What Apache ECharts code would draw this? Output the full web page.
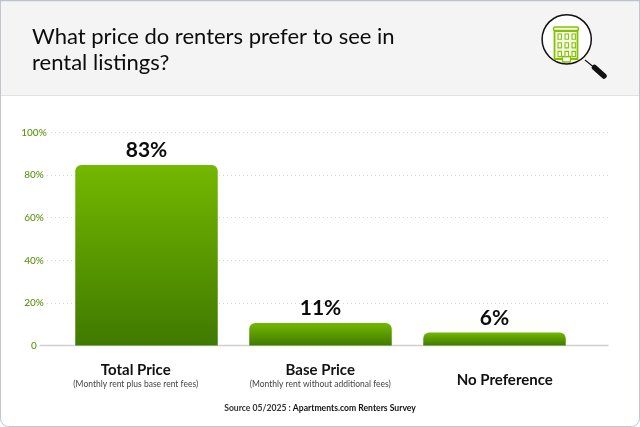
<!DOCTYPE html>
<html><head><meta charset="utf-8">
<style>html,body{margin:0;padding:0;background:#fff}#c{width:640px;height:427px}</style>
<script src="https://cdn.jsdelivr.net/npm/echarts@6/dist/echarts.min.js"></script>
</head><body><div id="c"></div>
<script>
// Printed percentages
const printedLabels = [83, 11, 6];
// Bar heights as read against the axis in the picture (the first bar is drawn a little above its printed 83)
const barHeights = [84.7, 10.6, 6.1];
const categories = ['Total Price', 'Base Price', 'No Preference'];
const subLabels = ['(Monthly rent plus base rent fees)', '(Monthly rent without additional fees)', ''];
const yTicks = [0, 20, 40, 60, 80, 100];
const titleText = 'What price do renters prefer to see in\nrental listings?';
const FONT = 'Lato, "Noto Sans", sans-serif';
const GREEN = '#74b800';
const ICON_GREEN = '#84c200';

const chart = echarts.init(document.getElementById('c'), null, {renderer: 'canvas'});
const icon = [
  {type:'circle',shape:{cx:566.7,cy:39.3,r:24.6},style:{fill:'#fff',stroke:'#111',lineWidth:1.5}},
  {type:'rect',shape:{x:554.5,y:31,width:23,height:28},style:{fill:'#f4fae6',stroke:ICON_GREEN,lineWidth:1.8}},
  {type:'rect',shape:{x:553.5,y:27,width:25,height:3.6,r:1.8},style:{fill:'#fff',stroke:ICON_GREEN,lineWidth:1.5}},
  {type:'rect',shape:{x:562.5,y:56.5,width:8,height:5.5},style:{fill:'#fff',stroke:ICON_GREEN,lineWidth:1.3}},
  {type:'line',shape:{x1:585,y1:60,x2:593,y2:66.5},style:{stroke:'#111',lineWidth:1.1}},
  {type:'line',shape:{x1:594.5,y1:67.5,x2:604,y2:76},style:{stroke:'#111',lineWidth:5.5,lineCap:'round'}}
];
[0,1,2].forEach(r=>[0,1,2].forEach(k=>{
  icon.push({type:'rect',shape:{x:558+k*7,y:34+r*8.7,width:3.4,height:5.2},style:{fill:'#fff',stroke:ICON_GREEN,lineWidth:1.1}});
}));
icon.forEach(o=>o.z=6);

chart.setOption({
  animation:false,
  backgroundColor:'#fff',
  graphic:[
    {type:'rect',z:0,shape:{x:0.5,y:-8,width:639,height:434.5,r:8},style:{fill:'#fff',stroke:'#c2c5cb',lineWidth:1}},
    {type:'rect',z:1,shape:{x:1,y:1,width:638,height:94},style:{fill:'#f4f4f4'}},
    {type:'rect',z:1,shape:{x:1,y:95,width:638,height:1},style:{fill:'#e2e2e2'}},
    {type:'rect',z:1,shape:{x:0,y:0,width:640,height:1.2},style:{fill:'#bdc1ca'}},
    ...icon
  ],
  title:[
    {text:titleText,left:27,top:19,textStyle:{fontFamily:FONT,fontSize:22,fontWeight:'normal',color:'#0c0c0c',lineHeight:26}},
    {text:'{a|Source 05/2025 : }{b|Apartments.com Renters Survey}',left:'center',top:399,
     textStyle:{rich:{a:{fontFamily:FONT,fontSize:8.6,color:'#333'},b:{fontFamily:FONT,fontSize:8.6,fontWeight:'bold',color:'#111'}}}}
  ],
  grid:[
    {left:40,width:568,top:132.5,height:213},
    {left:47,width:561,top:132.5,height:213},
    {left:59.5,width:522,top:132.5,height:213},
    {left:43.5,width:553.5,top:132.5,height:213}
  ],
  xAxis:[
    {gridIndex:0,type:'category',data:['',''],axisLine:{show:true,onZero:true,lineStyle:{color:'#cfcfcf',width:1.3}},axisTick:{show:false},axisLabel:{show:false}},
    {gridIndex:1,type:'category',show:false,data:['']},
    {gridIndex:2,type:'category',data:categories,axisLine:{show:false},axisTick:{show:false},axisLabel:{show:false}},
    {gridIndex:3,type:'category',data:categories,axisLine:{show:false},axisTick:{show:false},
     axisLabel:{margin:17,interval:0,
       formatter:(v,i)=>subLabels[i]?`{t|${v}}\n{s|${subLabels[i]}}`:`{n|${v}}`,
       rich:{
         t:{fontFamily:FONT,fontSize:15,fontWeight:'bold',color:'#111',lineHeight:16},
         s:{fontFamily:FONT,fontSize:8.5,color:'#444',lineHeight:11},
         n:{fontFamily:FONT,fontSize:15,fontWeight:'bold',color:'#111',lineHeight:17,padding:[18,0,0,0]}
       }}}
  ],
  yAxis:[
    {gridIndex:0,type:'value',min:0,max:100,interval:20,show:false},
    {gridIndex:1,type:'value',min:yTicks[0],max:yTicks[yTicks.length-1],interval:20,
     axisLine:{show:false},axisTick:{show:false},
     splitLine:{show:true,showMinLine:false,lineStyle:{color:'#d6d6d6',type:[1,3],width:1}},
     axisLabel:{margin:3,width:24,align:'center',padding:[0,20,0,0],color:'#5a9410',fontFamily:FONT,fontSize:10,fontWeight:500,formatter:v=>v===0?'0':v+'%'}},
    {gridIndex:2,type:'value',min:0,max:100,interval:20,show:false},
    {gridIndex:3,type:'value',min:0,max:100,interval:20,show:false}
  ],
  series:[{
    type:'bar',xAxisIndex:2,yAxisIndex:2,data:barHeights,barWidth:142.5,
    itemStyle:{borderRadius:[6,6,0,0],color:new echarts.graphic.LinearGradient(0,0,0,1,[{offset:0,color:GREEN},{offset:1,color:'#3f7a00'}])},
    label:{show:true,position:'top',distance:4,fontFamily:FONT,fontSize:21,fontWeight:'bold',color:'#0c0c0c',
      formatter:p=>printedLabels[p.dataIndex]+'%'}
  }]
});
</script></body></html>
